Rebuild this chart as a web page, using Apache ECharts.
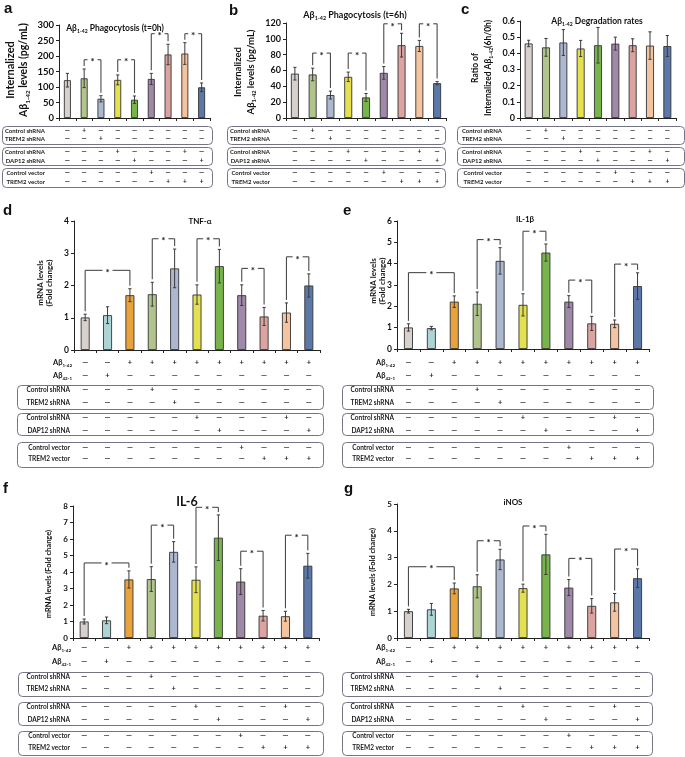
<!DOCTYPE html>
<html><head><meta charset="utf-8">
<script src="https://cdn.jsdelivr.net/npm/echarts@6/dist/echarts.min.js"></script>
<style>html,body{margin:0;padding:0;background:#fff}#c{width:685px;height:757px}</style>
</head><body><div id="c"></div>
<script>
// ---------------- DATA ----------------
const colors9 = ['#d8d0cc','#b0c48c','#acb8d0','#e4e050','#78b44c','#a088a8','#dca4a0','#f4c4a0','#5c78a8'];
const colors11 = ['#d8d0cc','#acd4d4','#e8a33c','#b0c48c','#acb8d0','#e4e050','#78b44c','#a088a8','#dca4a0','#f4c4a0','#5c78a8'];

const categories9 = ['Ctrl','Ctrl shRNA','TREM2 shRNA','Ctrl shRNA (2)','DAP12 shRNA','Ctrl vector','TREM2 vector','TREM2 vector + Ctrl shRNA','TREM2 vector + DAP12 shRNA'];
const categories11 = ['Ctrl','Aβ42-1','Aβ1-42','Aβ1-42 + Ctrl shRNA','Aβ1-42 + TREM2 shRNA','Aβ1-42 + Ctrl shRNA (2)','Aβ1-42 + DAP12 shRNA','Aβ1-42 + Ctrl vector','Aβ1-42 + TREM2 vector','Aβ1-42 + TREM2 vector + Ctrl shRNA','Aβ1-42 + TREM2 vector + DAP12 shRNA'];

const aValues = [122,128,62,123,59,126,205,208,99];
const aErrors = [22,30,10,16,12,18,33,35,14];
const aBrackets = [[1,2,188],[3,4,188],[5,6,272],[7,8,272]];
const aTicks = {max:300, interval:50};

const bValues = [56,55,29,52,26,57,92,91,44];
const bErrors = [8,8,5,6,5,8,15,7,2];
const bBrackets = [[1,2,82],[3,4,82],[5,6,119],[7,8,119]];
const bTicks = {max:120, interval:20};

const cValues = [0.461,0.437,0.467,0.43,0.45,0.46,0.45,0.448,0.445];
const cErrors = [0.02,0.055,0.08,0.05,0.11,0.04,0.04,0.085,0.065];
const cBrackets = [];
const cTicks = {max:0.6, interval:0.1};

const dValues = [1.01,1.08,1.7,1.73,2.53,1.72,2.6,1.7,1.04,1.16,2.0];
const dErrors = [0.1,0.26,0.2,0.37,0.6,0.3,0.52,0.32,0.28,0.3,0.36];
const dBrackets = [[0,2,2.47],[3,4,3.45],[5,6,3.45],[7,8,2.53],[9,10,2.89]];
const dTicks = {max:4, interval:1};

const eValues = [1.01,0.98,2.22,2.12,4.13,2.07,4.52,2.22,1.2,1.18,2.95];
const eErrors = [0.17,0.08,0.27,0.55,0.62,0.52,0.4,0.28,0.33,0.18,0.62];
const eBrackets = [[0,2,3.58],[3,4,5.13],[5,6,5.52],[7,8,3.23],[9,10,3.98]];
const eTicks = {max:6, interval:1};

const fValues = [1.0,1.07,3.55,3.57,5.22,3.53,6.08,3.42,1.35,1.32,4.38];
const fErrors = [0.15,0.2,0.52,0.75,0.62,0.78,1.38,0.78,0.32,0.3,0.75];
const fBrackets = [[0,2,4.55],[3,4,6.84],[5,6,7.92],[7,8,5.26],[9,10,6.23]];
const fTicks = {max:8, interval:1};

const gValues = [1.0,1.07,1.85,1.93,2.93,1.86,3.12,1.88,1.2,1.33,2.23];
const gErrors = [0.07,0.22,0.2,0.43,0.38,0.15,0.75,0.3,0.27,0.33,0.35];
const gBrackets = [[0,2,2.66],[3,4,3.63],[5,6,4.18],[7,8,2.97],[9,10,3.32]];
const gTicks = {max:5, interval:1};

const rowLabelsABC = ['Control shRNA','TREM2 shRNA','Control shRNA','DAP12 shRNA','Control vector','TREM2 vector'];
const signsABC = ['-+-------','--+------','---+---+-','----+---+','-----+---','------+++'];
const treatLabelsDG = ['{n|Aβ}{s|1-42}','{n|Aβ}{s|42-1}'];
const treatSignsDG = ['--+++++++++','-+---------'];
const rowLabelsDG = ['Control shRNA','TREM2 shRNA','Control shRNA','DAP12 shRNA','Control vector','TREM2 vector'];
const signsDG = ['---+-------','----+------','-----+---+-','------+---+','-------+---','--------+++'];

const titles = {
  a:'{n|Aβ}{s|1-42}{n| Phagocytosis (t=0h)}',
  b:'{n|Aβ}{s|1-42}{n| Phagocytosis (t=6h)}',
  c:'{n|Aβ}{s|1-42}{n| Degradation rates}',
  d:'TNF-α', e:'IL-1β', f:'IL-6', g:'iNOS'
};
const yNames = {
  a:['Internalized','{n|Aβ}{s|1-42}{n| levels (pg/mL)}'],
  b:['Internalized','{n|Aβ}{s|1-42}{n| levels (pg/mL)}'],
  c:['Ratio of','{n|Internalized Aβ}{s|1-42}{n|(6h/0h)}'],
  d:['mRNA levels','(Fold change)'],
  e:['mRNA levels','(Fold change)'],
  f:['mRNA levels (Fold change)'],
  g:['mRNA levels (Fold change)']
};

// ---------------- LAYOUT ----------------
const FONT = 'Lato, "Liberation Sans", sans-serif';
const rowsABC = [131,139,152,161,173,182];
const boxesABC = [[126,144],[147,165],[168,187]];
const panels = [
  {k:'a', cats:categories9, vals:aValues, errs:aErrors, br:aBrackets, ticks:aTicks, colors:colors9,
   grid:[59,25,151,93], barW:7, tickFont:9.5, letter:[4,1],
   title:[115,28,8.5], yName:{xs:[10,24], y:70, size:[11,10.5]},
   table:{rows:rowsABC, boxes:boxesABC, box:[2,212], labelRight:45, labelFont:6, signFont:6.5}},
  {k:'b', cats:categories9, vals:bValues, errs:bErrors, br:bBrackets, ticks:bTicks, colors:colors9,
   grid:[286,23,160,95], barW:8, tickFont:9, letter:[229,3],
   title:[355,15,9], yName:{xs:[238,251], y:72, size:[9.5,9.5]},
   table:{rows:rowsABC, boxes:boxesABC, box:[227,445], labelRight:270, labelFont:6, signFont:6.5}},
  {k:'c', cats:categories9, vals:cValues, errs:cErrors, br:cBrackets, ticks:cTicks, colors:colors9,
   grid:[520,21,156,97], barW:8, tickFont:9, letter:[461,2],
   title:[597,21,8.5], yName:{xs:[475,488], y:68, size:[8.5,8.5]},
   table:{rows:rowsABC, boxes:boxesABC, box:[457,684], labelRight:502, labelFont:6, signFont:6.5}},
  {k:'d', cats:categories11, vals:dValues, errs:dErrors, br:dBrackets, ticks:dTicks, colors:colors11,
   grid:[74,221,246,129], barW:9, tickFont:8.5, letter:[3,203],
   title:[200,221,8], yName:{xs:[40,49], y:283, size:[8,8]},
   treat:{rows:[363,376], labelRight:72},
   table:{rows:[390,403,418,431,448,459], boxes:[[385,409],[413,435],[442,467]], box:[17,323], labelRight:70, labelFont:6.5, signFont:7.5}},
  {k:'e', cats:categories11, vals:eValues, errs:eErrors, br:eBrackets, ticks:eTicks, colors:colors11,
   grid:[397,221,252,128], barW:9, tickFont:8.5, letter:[343,203],
   title:[525,219,8], yName:{xs:[373,382], y:281, size:[8,8]},
   treat:{rows:[363,376], labelRight:395},
   table:{rows:[390,403,418,431,448,459], boxes:[[385,409],[413,435],[442,467]], box:[342,653], labelRight:394, labelFont:6.5, signFont:7.5}},
  {k:'f', cats:categories11, vals:fValues, errs:fErrors, br:fBrackets, ticks:fTicks, colors:colors11,
   grid:[73,506,246,132], barW:9, tickFont:8, letter:[3,481],
   title:[187,502,12.5], yName:{xs:[49], y:574, size:[7.5]},
   treat:{rows:[648,662], labelRight:71},
   table:{rows:[677,689,707,720,736,748], boxes:[[672,696],[702,725],[731,755]], box:[18,323], labelRight:70, labelFont:6.5, signFont:7.5}},
  {k:'g', cats:categories11, vals:gValues, errs:gErrors, br:gBrackets, ticks:gTicks, colors:colors11,
   grid:[397,504,252,134], barW:9, tickFont:8, letter:[344,481],
   title:[513,502,8], yName:{xs:[373], y:572, size:[7.5]},
   treat:{rows:[648,662], labelRight:395},
   table:{rows:[677,689,707,720,736,748], boxes:[[672,696],[702,725],[731,755]], box:[342,652], labelRight:394, labelFont:6.5, signFont:7.5}}
];

function richStyle(size){
  return {
    n:{fontSize:size, fontWeight:'bold', fontFamily:FONT, fill:'#111', color:'#111', lineHeight:size+3},
    s:{fontSize:Math.max(4.5,size*0.6), fontWeight:'bold', fontFamily:FONT, fill:'#111', color:'#111', verticalAlign:'bottom', lineHeight:size*0.6+1}
  };
}
function richText(t){ return t.indexOf('{')===0 ? t : '{n|'+t+'}'; }

const grids=[], xAxes=[], yAxes=[], series=[], graphics=[];
const LINE = '#3a3a3a';

panels.forEach((p, k) => {
  grids.push({left:p.grid[0], top:p.grid[1], width:p.grid[2], height:p.grid[3], containLabel:false});
  xAxes.push({type:'category', gridIndex:k, data:p.cats,
    axisLine:{lineStyle:{color:'#222', width:1}},
    axisTick:{show:true, length:3, interval:0, lineStyle:{color:'#222'}},
    axisLabel:{show:false}});
  yAxes.push({type:'value', gridIndex:k, min:0, max:p.ticks.max, interval:p.ticks.interval,
    axisLine:{show:true, lineStyle:{color:'#222', width:1}},
    axisTick:{show:true, length:3, lineStyle:{color:'#222'}},
    splitLine:{show:false},
    axisLabel:{fontFamily:FONT, fontWeight:'bold', fontSize:p.tickFont, color:'#111', margin:5,
      formatter:(v)=> String(Math.round(v*10)/10)}});
  // bars
  series.push({type:'bar', xAxisIndex:k, yAxisIndex:k, barWidth:p.barW, silent:true,
    data:p.vals.map((v,i)=>({value:v, itemStyle:{color:p.colors[i]}})),
    itemStyle:{borderColor:'#333', borderWidth:0.9}});
  // error bars
  series.push({type:'custom', xAxisIndex:k, yAxisIndex:k, silent:true, z:5,
    encode:{x:0, y:[1,2]},
    data:p.vals.map((v,i)=>[i, v+p.errs[i], Math.max(0, v-p.errs[i])]),
    renderItem:(params, api)=>{
      const i=api.value(0);
      const hi=api.coord([i, api.value(1)]), lo=api.coord([i, api.value(2)]);
      const w=1.6, st={stroke:LINE, lineWidth:1};
      return {type:'group', children:[
        {type:'line', shape:{x1:hi[0],y1:hi[1],x2:lo[0],y2:lo[1]}, style:st},
        {type:'line', shape:{x1:hi[0]-w,y1:hi[1],x2:hi[0]+w,y2:hi[1]}, style:st},
        {type:'line', shape:{x1:lo[0]-w,y1:lo[1],x2:lo[0]+w,y2:lo[1]}, style:st}
      ]};
    }});
  // significance brackets
  if (p.br.length) {
    series.push({type:'custom', xAxisIndex:k, yAxisIndex:k, silent:true, z:6,
      encode:{x:0, y:2},
      data:p.br.map(b=>[b[0], b[1], b[2], p.vals[b[0]]+p.errs[b[0]], p.vals[b[1]]+p.errs[b[1]]]),
      renderItem:(params, api)=>{
        const i=api.value(0), j=api.value(1), h=api.value(2);
        const L=api.coord([i,h]), R=api.coord([j,h]);
        const bl=api.coord([i,api.value(3)]), brr=api.coord([j,api.value(4)]);
        const mid=(L[0]+R[0])/2, gap=5, y=L[1];
        const st={stroke:'#4a4a4a', lineWidth:1.1};
        return {type:'group', children:[
          {type:'line', shape:{x1:L[0],y1:bl[1]-3,x2:L[0],y2:y}, style:st},
          {type:'line', shape:{x1:L[0],y1:y,x2:mid-gap,y2:y}, style:st},
          {type:'line', shape:{x1:mid+gap,y1:y,x2:R[0],y2:y}, style:st},
          {type:'line', shape:{x1:R[0],y1:y,x2:R[0],y2:brr[1]-3}, style:st},
          {type:'text', x:mid, y:y+2.5, style:{text:'*', fontSize:10, fontWeight:'bold', fontFamily:FONT, fill:'#222', align:'center', verticalAlign:'middle'}}
        ]};
      }});
  }
  // sign table cells (columns aligned with category axis)
  const allSigns = (p.treat ? treatSignsDG : []).concat(p.treat ? signsDG : signsABC);
  const allRows = (p.treat ? p.treat.rows : []).concat(p.table.rows);
  series.push({type:'custom', xAxisIndex:k, yAxisIndex:k, silent:true, clip:false,
    encode:{x:0, y:1},
    data:p.vals.map((v,i)=>[i,0]),
    renderItem:(params, api)=>{
      const i=api.value(0);
      const x=api.coord([i,0])[0];
      return {type:'group', children: allSigns.map((row,r)=>({
        type:'text', x:x, y:allRows[r],
        style:{text: row[i]==='+' ? '+' : '—', fontSize:p.table.signFont, fontWeight:'bold', fontFamily:FONT,
               fill:'#222', align:'center', verticalAlign:'middle'}}))};
    }});

  // panel letter
  graphics.push({type:'text', x:p.letter[0], y:p.letter[1], silent:true,
    style:{text:p.k, fontSize:15, fontWeight:'bold', fontFamily:'"Liberation Sans", Arial, sans-serif', fill:'#111'}});
  // title
  graphics.push({type:'text', x:p.title[0], y:p.title[1], silent:true,
    style:{text:richText(titles[p.k]), rich:richStyle(p.title[2]), align:'center', verticalAlign:'middle'}});
  // y axis names
  yNames[p.k].forEach((t, n)=>{
    graphics.push({type:'text', x:p.yName.xs[n], y:p.yName.y, rotation:Math.PI/2, silent:true,
      style:{text:richText(t), rich:richStyle(p.yName.size[n]), align:'center', verticalAlign:'middle'}});
  });
  // table boxes
  p.table.boxes.forEach(bx=>{
    graphics.push({type:'rect', silent:true,
      shape:{x:p.table.box[0]+0.5, y:bx[0]+0.5, width:p.table.box[1]-p.table.box[0], height:bx[1]-bx[0], r:4},
      style:{fill:'none', stroke:'#747484', lineWidth:1}});
  });
  // row labels
  const labels = p.treat ? rowLabelsDG : rowLabelsABC;
  labels.forEach((t, r)=>{
    graphics.push({type:'text', x:p.table.labelRight, y:p.table.rows[r], silent:true,
      style:{text:t, fontSize:p.table.labelFont, fontWeight:'bold', fontFamily:FONT, fill:'#222', align:'right', verticalAlign:'middle'}});
  });
  if (p.treat) {
    treatLabelsDG.forEach((t, r)=>{
      graphics.push({type:'text', x:p.treat.labelRight, y:p.treat.rows[r], silent:true,
        style:{text:t, rich:richStyle(7.5), align:'right', verticalAlign:'middle'}});
    });
  }
});

const chart = echarts.init(document.getElementById('c'), null, {renderer:'canvas'});
chart.setOption({
  animation:false,
  backgroundColor:'#fff',
  grid:grids, xAxis:xAxes, yAxis:yAxes, series:series, graphic:graphics
});
</script></body></html>
